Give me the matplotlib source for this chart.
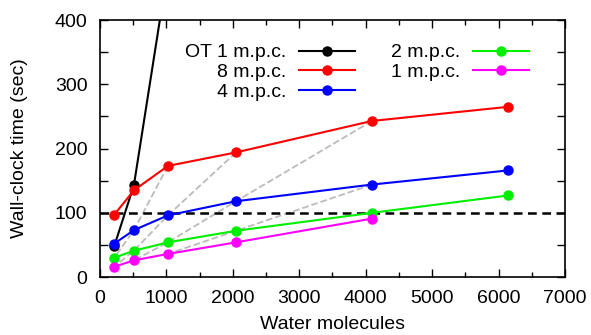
import matplotlib.pyplot as plt
from matplotlib.ticker import MultipleLocator

plt.rcParams['font.family'] = ['Liberation Sans', 'DejaVu Sans']

# water molecules per run
n_mol = [216, 512, 1024, 2048, 4096, 6144]

# wall-clock time (sec)
ot_1 = [48, 143, 480]
mpc_8 = [97, 135, 173, 194, 243, 265]
mpc_4 = [52, 73, 96, 118, 144, 166]
mpc_2 = [30, 41, 54, 72, 100, 127]
mpc_1 = [16, 26, 36, 54, 91]

# points sharing the same core count, as (series, molecules)
same_cores = [
    [('8', 1024), ('4', 512), ('2', 216)],
    [('8', 2048), ('4', 1024), ('2', 512), ('1', 216)],
    [('8', 4096), ('4', 2048), ('2', 1024), ('1', 512)],
    [('4', 4096), ('2', 2048), ('1', 1024)],
]

series = {'8': mpc_8, '4': mpc_4, '2': mpc_2, '1': mpc_1}

fig = plt.figure(figsize=(5.91, 3.35), dpi=100)
ax = fig.add_axes([0.169, 0.173, 0.787, 0.767])

for grp in same_cores:
    xs = [m for s, m in grp]
    ys = [series[s][n_mol.index(m)] for s, m in grp]
    ax.plot(xs, ys, '--', color='#bbbbbb', lw=1.3, zorder=1)

ax.axhline(100, color='black', ls='--', lw=1.8, dashes=(3.5, 2.2), zorder=2)

kw = dict(marker='o', ms=6.5, lw=1.5, zorder=3, clip_on=True)
ax.plot(n_mol[:len(ot_1)], ot_1, color='black', label='OT 1 m.p.c.', **kw)
ax.plot(n_mol, mpc_8, color='#ff0000', label='8 m.p.c.', **kw)
ax.plot(n_mol, mpc_4, color='#0000ff', label='4 m.p.c.', **kw)
ax.plot(n_mol, mpc_2, color='#00ee00', label='2 m.p.c.', **kw)
ax.plot(n_mol[:len(mpc_1)], mpc_1, color='#ff00ff', label='1 m.p.c.', **kw)

ax.set_xlim(0, 7000)
ax.set_ylim(0, 400)
ax.xaxis.set_major_locator(MultipleLocator(1000))
ax.xaxis.set_minor_locator(MultipleLocator(500))
ax.yaxis.set_major_locator(MultipleLocator(100))
ax.yaxis.set_minor_locator(MultipleLocator(50))
ax.tick_params(which='both', direction='in', top=True, right=True, labelsize=14)
ax.tick_params(which='major', length=6, width=1)
ax.tick_params(which='minor', length=3.5, width=1)
ax.tick_params(axis='y', which='minor', length=6)
ax.tick_params(axis='x', which='both', pad=9)
ax.tick_params(axis='y', which='both', pad=9)
for sp in ax.spines.values():
    sp.set_linewidth(1.2)

ax.set_xlabel('Water molecules', fontsize=14, labelpad=7)
ax.set_ylabel('Wall-clock time (sec)', fontsize=14, labelpad=19)

ax.legend(ncol=2, loc='upper right', bbox_to_anchor=(0.923, 0.908), frameon=False,
          markerfirst=False, fontsize=14, handlelength=2.9, labelspacing=0.12,
          columnspacing=1.85, handletextpad=0.65, borderpad=0, borderaxespad=0)

fig.savefig('out.png', dpi=100)
